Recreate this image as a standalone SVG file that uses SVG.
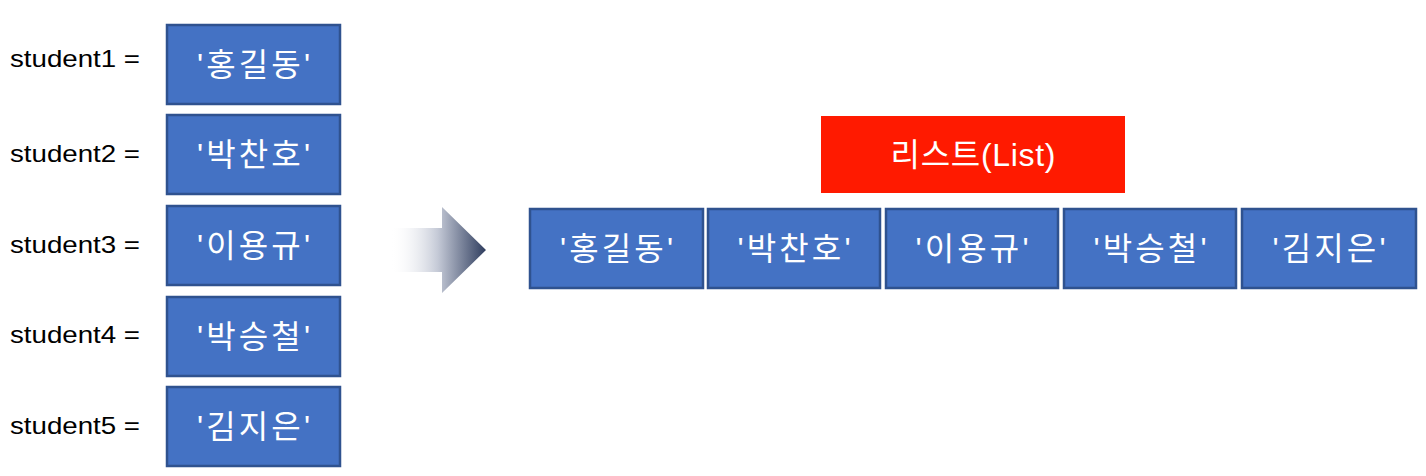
<svg xmlns="http://www.w3.org/2000/svg" width="1426" height="476" viewBox="0 0 1426 476">
<style>
.box{fill:#4472C4;stroke:#2F528F;stroke-width:2.5}
.t{font-family:"Liberation Sans","Noto Sans CJK KR",sans-serif;font-size:32px;fill:#fff;text-anchor:middle;dominant-baseline:central}
.lbl{font-family:"Liberation Sans","Noto Sans CJK KR",sans-serif;font-size:24px;fill:#000;dominant-baseline:central}
</style>
<defs>
<linearGradient id="ag" x1="0" y1="0" x2="1" y2="0">
<stop offset="0" stop-color="#fff" stop-opacity="0"/>
<stop offset="0.5" stop-color="#c4c9d6"/>
<stop offset="1" stop-color="#2f3d5e"/>
</linearGradient>
</defs>
<rect width="1426" height="476" fill="#fff"/>
<g id="s1"><text class="lbl" x="10" y="58" textLength="130" lengthAdjust="spacingAndGlyphs">student1 =</text><rect class="box" x="167" y="25" width="173" height="79"/><text class="t" x="253.5" y="64.5" textLength="113">'홍길동'</text></g>
<g id="s2"><text class="lbl" x="10" y="153" textLength="130" lengthAdjust="spacingAndGlyphs">student2 =</text><rect class="box" x="167" y="115" width="173" height="79"/><text class="t" x="253.5" y="154.5" textLength="113">'박찬호'</text></g>
<g id="s3"><text class="lbl" x="10" y="244" textLength="130" lengthAdjust="spacingAndGlyphs">student3 =</text><rect class="box" x="167" y="206" width="173" height="79"/><text class="t" x="253.5" y="245.5" textLength="113">'이용규'</text></g>
<g id="s4"><text class="lbl" x="10" y="334" textLength="130" lengthAdjust="spacingAndGlyphs">student4 =</text><rect class="box" x="167" y="297" width="173" height="79"/><text class="t" x="253.5" y="336.5" textLength="113">'박승철'</text></g>
<g id="s5"><text class="lbl" x="10" y="425" textLength="130" lengthAdjust="spacingAndGlyphs">student5 =</text><rect class="box" x="167" y="387" width="173" height="79"/><text class="t" x="253.5" y="426.5" textLength="113">'김지은'</text></g>
<g id="arrow"><polygon points="390,228 442,228 442,207 486,250 442,293 442,272 390,272" fill="url(#ag)"/></g>
<g id="listlabel"><rect x="821" y="116" width="304" height="77" fill="#FF1A00"/><text class="t" x="973" y="155" textLength="165">리스트(List)</text></g>
<g id="list">
<g id="l1"><rect class="box" x="530" y="209" width="173" height="79"/><text class="t" x="616.5" y="248.5" textLength="113">'홍길동'</text></g>
<g id="l2"><rect class="box" x="708" y="209" width="172" height="79"/><text class="t" x="794" y="248.5" textLength="113">'박찬호'</text></g>
<g id="l3"><rect class="box" x="886" y="209" width="172" height="79"/><text class="t" x="972" y="248.5" textLength="113">'이용규'</text></g>
<g id="l4"><rect class="box" x="1064" y="209" width="172" height="79"/><text class="t" x="1150" y="248.5" textLength="113">'박승철'</text></g>
<g id="l5"><rect class="box" x="1242" y="209" width="174" height="79"/><text class="t" x="1329" y="248.5" textLength="113">'김지은'</text></g>
</g>
<g id="connectors"></g>
</svg>
